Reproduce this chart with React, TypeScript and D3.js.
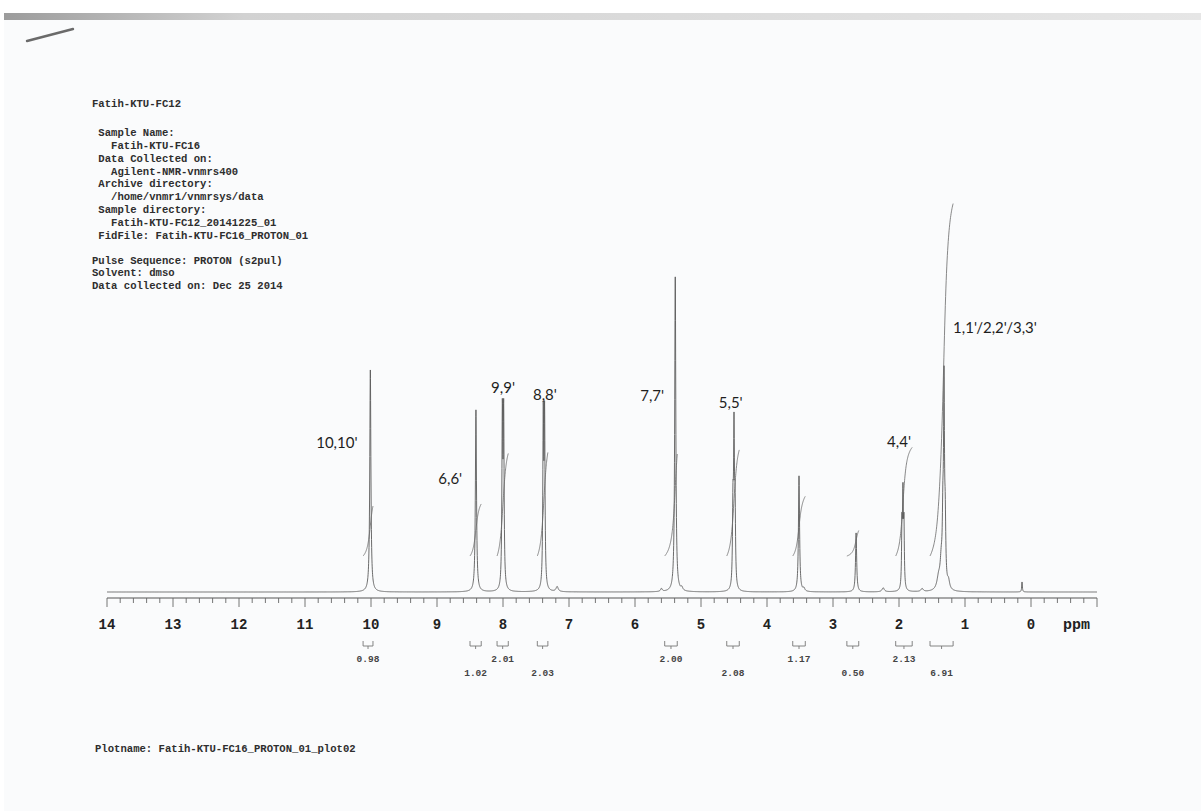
import React, { useMemo } from "react";
import * as d3 from "d3";

const W = 1201;
const H = 811;

// ---------- header text ----------
const headerLines = [
  "Fatih-KTU-FC12",
  " Sample Name:",
  "   Fatih-KTU-FC16",
  " Data Collected on:",
  "   Agilent-NMR-vnmrs400",
  " Archive directory:",
  "   /home/vnmr1/vnmrsys/data",
  " Sample directory:",
  "   Fatih-KTU-FC12_20141225_01",
  " FidFile: Fatih-KTU-FC16_PROTON_01",
  "Pulse Sequence: PROTON (s2pul)",
  "Solvent: dmso",
  "Data collected on: Dec 25 2014",
];
const headerBaselines = [107, 136, 149, 162, 175, 187, 200, 213, 226, 239, 264, 276, 289];
const plotName = "Plotname: Fatih-KTU-FC16_PROTON_01_plot02";

// ---------- axis ----------
const ppmMax = 14;
const ppmMin = -1;
const tickLabels = [14, 13, 12, 11, 10, 9, 8, 7, 6, 5, 4, 3, 2, 1, 0];
const minorStep = 0.2;

// ---------- spectrum lines (ppm, intensity, half width ppm) ----------
const peakPpm = [10.01, 8.41, 8.01, 7.99, 7.39, 7.37, 7.18, 5.6, 5.39, 5.29, 4.516, 4.5, 4.484, 3.515, 3.44, 2.65, 2.24, 1.955, 1.94, 1.925, 1.65, 1.4, 1.36, 1.335, 1.318, 1.3, 1.25, 0.136];
const peakHeight = [222, 182, 170, 170, 168, 168, 5, 3, 315, 3, 75, 150, 75, 116, 3, 59, 4, 60, 88, 60, 3, 12, 25, 60, 190, 60, 8, 10];
const peakWidth = [0.01, 0.01, 0.008, 0.008, 0.008, 0.008, 0.02, 0.015, 0.01, 0.015, 0.008, 0.008, 0.008, 0.01, 0.015, 0.01, 0.02, 0.007, 0.007, 0.007, 0.02, 0.03, 0.02, 0.01, 0.008, 0.01, 0.02, 0.006];

// ---------- integrals ----------
const integralFrom = [10.12, 8.5, 8.09, 7.48, 5.55, 4.61, 3.61, 2.79, 2.05, 1.53];
const integralTo = [9.97, 8.33, 7.92, 7.32, 5.36, 4.42, 3.42, 2.61, 1.8, 1.18];
const integralValue = [0.98, 1.02, 2.01, 2.03, 2.0, 2.08, 1.17, 0.5, 2.13, 6.91];
const integralLabel = ["0.98", "1.02", "2.01", "2.03", "2.00", "2.08", "1.17", "0.50", "2.13", "6.91"];
const integralSmooth = 0.04;

// ---------- peak assignments ----------
const assignText = ["10,10'", "6,6'", "9,9'", "8,8'", "7,7'", "5,5'", "4,4'", "1,1'/2,2'/3,3'"];
const assignPpm = [10.83, 8.98, 8.18, 7.545, 5.92, 4.73, 2.18, 1.18];
const assignLevel = [144, 108, 199, 192, 191, 184, 145, 259];

const mono = "'Liberation Mono', 'DejaVu Sans Mono', monospace";
const sans = "Lato, 'Open Sans', sans-serif";
const lineColor = "#5a5a5a";

export default function App() {
  const x = d3.scaleLinear().domain([ppmMax, ppmMin]).range([107, 1097]);
  const y = d3.scaleLinear().domain([0, 250]).range([592, 342]);
  const yInt = d3.scaleLinear().domain([0, 7]).range([556, 199]);

  const spectrumPath = useMemo(() => {
    const grid: number[] = [];
    for (let p = ppmMax; p >= ppmMin - 1e-9; p -= 0.002) grid.push(p);
    peakPpm.forEach((c) => grid.push(c));
    grid.sort((a, b) => b - a);
    const pts = grid.map((p) => {
      let s = 0;
      for (let i = 0; i < peakPpm.length; i++) {
        const d = (p - peakPpm[i]) / peakWidth[i];
        s += peakHeight[i] / (1 + d * d);
      }
      return [p, s] as [number, number];
    });
    return d3
      .line<[number, number]>()
      .x((d) => x(d[0]))
      .y((d) => y(d[1]))(pts);
  }, []);

  const integralPaths = useMemo(() => {
    return integralFrom.map((from, k) => {
      const to = integralTo[k];
      const cdf = (p: number) => {
        let s = 0;
        for (let i = 0; i < peakPpm.length; i++) {
          if (peakPpm[i] > from || peakPpm[i] < to) continue;
          const area = peakHeight[i] * peakWidth[i];
          s += area * (0.5 - Math.atan((p - peakPpm[i]) / integralSmooth) / Math.PI);
        }
        return s;
      };
      const c0 = cdf(from);
      const c1 = cdf(to);
      const pts: [number, number][] = [];
      const n = 80;
      for (let j = 0; j <= n; j++) {
        const p = from - ((from - to) * j) / n;
        const v = ((cdf(p) - c0) / (c1 - c0)) * integralValue[k];
        pts.push([p, v]);
      }
      return d3
        .line<[number, number]>()
        .x((d) => x(d[0]))
        .y((d) => yInt(d[1]))
        .curve(d3.curveMonotoneX)(pts);
    });
  }, []);

  const minorTicks: number[] = [];
  for (let p = ppmMax; p >= ppmMin - 1e-9; p -= minorStep) minorTicks.push(Math.round(p * 10) / 10);

  const axisY = 598;

  return (
    <svg
      width={W}
      height={H}
      viewBox={`0 0 ${W} ${H}`}
      style={{ position: "absolute", left: 0, top: 0, display: "block" }}
    >
      <defs>
        <linearGradient id="band" x1="0" x2="1" y1="0" y2="0">
          <stop offset="0" stopColor="#9c9c9c" />
          <stop offset="0.2" stopColor="#d2d2d2" />
          <stop offset="1" stopColor="#e6e6e6" />
        </linearGradient>
      </defs>
      <rect x={0} y={0} width={W} height={H} fill="#ffffff" />
      <rect x={4} y={20} width={W - 4} height={H - 20} fill="#fafbfc" />
      <rect x={4} y={13} width={W - 4} height={7} fill="url(#band)" />

      {/* pen mark */}
      <line x1={27} y1={41} x2={73} y2={29} stroke="#6a6a6a" strokeWidth={2.4} strokeLinecap="round" />

      {/* header */}
      {headerLines.map((t, i) => (
        <text
          key={i}
          x={92}
          y={headerBaselines[i]}
          fontFamily={mono}
          fontSize={10.6}
          fontWeight="bold"
          fill="#2e2e2e"
          style={{ whiteSpace: "pre" }}
        >
          {t}
        </text>
      ))}

      {/* spectrum */}
      <path d={spectrumPath || ""} fill="none" stroke={lineColor} strokeWidth={0.9} />

      {/* integral curves */}
      {integralPaths.map((d, i) => (
        <path key={i} d={d || ""} fill="none" stroke="#6a6a6a" strokeWidth={0.8} />
      ))}

      {/* axis */}
      <line x1={x(ppmMax)} x2={x(ppmMin)} y1={axisY} y2={axisY} stroke="#555" strokeWidth={1} />
      {minorTicks.map((p, i) => {
        const major = Math.abs(p - Math.round(p)) < 1e-6;
        return (
          <line
            key={i}
            x1={x(p)}
            x2={x(p)}
            y1={axisY}
            y2={axisY + (major ? 9 : 5)}
            stroke="#666"
            strokeWidth={0.9}
          />
        );
      })}
      {tickLabels.map((t) => (
        <text
          key={t}
          x={x(t)}
          y={629}
          textAnchor="middle"
          fontFamily={mono}
          fontSize={14}
          fontWeight="bold"
          fill="#222"
        >
          {t}
        </text>
      ))}
      <text x={1063} y={629} fontFamily={mono} fontSize={15} fontWeight="bold" fill="#222">
        ppm
      </text>

      {/* integral brackets */}
      {integralFrom.map((from, i) => {
        const x1 = x(from);
        const x2 = x(integralTo[i]);
        const xm = (x1 + x2) / 2;
        return (
          <g key={i}>
            <path
              d={`M${x1},641V646H${x2}V641M${xm},646V649`}
              fill="none"
              stroke="#777"
              strokeWidth={0.9}
            />
            <text
              x={xm}
              y={i % 2 === 0 ? 662 : 676}
              textAnchor="middle"
              fontFamily={mono}
              fontSize={9.5}
              fontWeight="bold"
              fill="#444"
            >
              {integralLabel[i]}
            </text>
          </g>
        );
      })}

      {/* assignments */}
      {assignText.map((t, i) => (
        <text
          key={i}
          x={x(assignPpm[i])}
          y={y(assignLevel[i])}
          fontFamily={sans}
          fontSize={15}
          fill="#1e1e1e"
        >
          {t}
        </text>
      ))}

      <text x={95} y={752} fontFamily={mono} fontSize={10.6} fontWeight="bold" fill="#2e2e2e">
        {plotName}
      </text>
    </svg>
  );
}
